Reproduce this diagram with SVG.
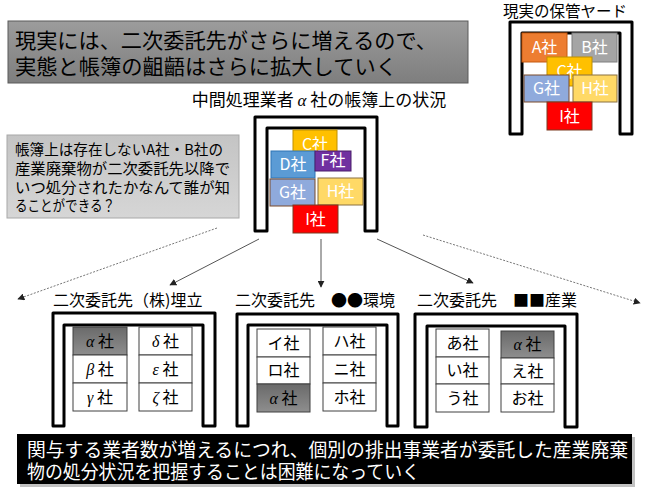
<svg xmlns="http://www.w3.org/2000/svg" width="650" height="489" viewBox="0 0 650 489">
<defs>
<linearGradient id="gTitle" x1="0" y1="0" x2="0" y2="1"><stop offset="0" stop-color="#9c9c9c"/><stop offset="1" stop-color="#7e7e7e"/></linearGradient>
<linearGradient id="gNote" x1="0" y1="0" x2="0" y2="1"><stop offset="0" stop-color="#c4c4c4"/><stop offset="1" stop-color="#d6d6d6"/></linearGradient>
<linearGradient id="gCell" x1="0" y1="0" x2="0" y2="1"><stop offset="0" stop-color="#6a6a6a"/><stop offset="1" stop-color="#8e8e8e"/></linearGradient>
<marker id="ah" viewBox="0 0 10 10" refX="9" refY="5" markerWidth="7" markerHeight="7" markerUnits="userSpaceOnUse" orient="auto"><path d="M0,0 L10,5 L0,10 Z" fill="#222"/></marker>
</defs>
<style>
text{font-family:"Noto Sans CJK JP","Liberation Sans",sans-serif;}
.u{fill:#fff;stroke:#000;stroke-width:3;stroke-linejoin:round;}
.bx{stroke-width:1;}
.wt{fill:#fff;font-size:16px;text-anchor:middle;}
.cell{fill:#fff;stroke:#404040;stroke-width:1;}
.ct{fill:#000;font-size:16px;text-anchor:middle;}
.lbl{fill:#000;font-size:16px;}
.gr{font-family:"Liberation Serif",serif;font-style:italic;}
.solid{stroke:#555;stroke-width:1;fill:none;marker-end:url(#ah);}
.dot{stroke:#777;stroke-width:1;stroke-dasharray:2,1.5;fill:none;marker-end:url(#ah);}
</style>
<rect width="650" height="489" fill="#fff"/>

<g id="title">
<rect x="8" y="21" width="460" height="62" fill="url(#gTitle)" stroke="#5a5a5a" stroke-width="1"/>
<text x="15" y="48" font-size="21" fill="#000" textLength="422" lengthAdjust="spacingAndGlyphs">現実には、二次委託先がさらに増えるので、</text>
<text x="15" y="74" font-size="21" fill="#000" textLength="382" lengthAdjust="spacingAndGlyphs">実態と帳簿の齟齬はさらに拡大していく</text>
</g>

<g id="yard">
<text x="565" y="17" font-size="15.5" text-anchor="middle" fill="#000">現実の保管ヤード</text>
<path class="u" d="M510,134 V22 H632 V134 H620 V33 H522 V134 Z"/>
<rect class="bx" x="522" y="33" width="45" height="29" fill="#ED7D31" stroke="#c55a11"/>
<text class="wt" x="544.5" y="53">A社</text>
<rect class="bx" x="572" y="33" width="45" height="29" fill="#A5A5A5" stroke="#7f7f7f"/>
<text class="wt" x="594.5" y="53">B社</text>
<rect class="bx" x="547" y="57" width="45" height="29" fill="#FFC000" stroke="#bf9000"/>
<text class="wt" x="569.5" y="77">C社</text>
<rect class="bx" x="524" y="75" width="45" height="27" fill="#8FAADC" stroke="#7a4a2a"/>
<text class="wt" x="546.5" y="94">G社</text>
<rect class="bx" x="573" y="75" width="44" height="27" fill="#FFD966" stroke="#8a7040"/>
<text class="wt" x="595" y="94">H社</text>
<rect class="bx" x="547" y="102" width="45" height="28" fill="#FF0000" stroke="#7a3a20"/>
<text class="wt" x="569.5" y="122">I社</text>
</g>

<g id="alpha">
<text x="319" y="106" font-size="17" text-anchor="middle" fill="#000">中間処理業者 <tspan class="gr">α</tspan> 社の帳簿上の状況</text>
<path class="u" d="M255,231 V117 H377 V231 H365 V128 H267 V231 Z"/>
<rect class="bx" x="293" y="130" width="44" height="28" fill="#FFC000" stroke="#bf9000"/>
<text class="wt" x="315" y="150">C社</text>
<rect class="bx" x="271" y="151" width="44" height="27" fill="#5B9BD5" stroke="#2e75b6"/>
<text class="wt" x="293" y="170">D社</text>
<rect class="bx" x="315" y="151" width="36" height="20" fill="#7030A0" stroke="#4a1f6a"/>
<text class="wt" x="333" y="166" font-size="12">F社</text>
<rect class="bx" x="270" y="179" width="45" height="27" fill="#8FAADC" stroke="#7a4a2a"/>
<text class="wt" x="292.5" y="198">G社</text>
<rect class="bx" x="318" y="178" width="45" height="27" fill="#FFD966" stroke="#8a7040"/>
<text class="wt" x="340.5" y="197">H社</text>
<rect class="bx" x="293" y="205" width="45" height="28" fill="#FF0000" stroke="#7a3a20"/>
<text class="wt" x="315.5" y="225">I社</text>
</g>

<g id="note">
<rect x="7" y="135" width="232" height="83" fill="url(#gNote)" stroke="#a8a8a8" stroke-width="1"/>
<text x="15" y="155" font-size="15" fill="#000" textLength="208" lengthAdjust="spacingAndGlyphs">帳簿上は存在しないA社・B社の</text>
<text x="15" y="174" font-size="15" fill="#000" textLength="215" lengthAdjust="spacingAndGlyphs">産業廃棄物が二次委託先以降で</text>
<text x="15" y="193" font-size="15" fill="#000" textLength="215" lengthAdjust="spacingAndGlyphs">いつ処分されたかなんて誰が知</text>
<text x="15" y="211" font-size="15" fill="#000" textLength="100" lengthAdjust="spacingAndGlyphs">ることができる？</text>
</g>

<g id="connectors">
<line class="dot" x1="217" y1="228" x2="18" y2="299"/>
<line class="solid" x1="259" y1="239" x2="170" y2="285"/>
<line class="solid" x1="321" y1="239" x2="321" y2="287"/>
<line class="solid" x1="377" y1="239" x2="473" y2="283"/>
<line class="dot" x1="423" y1="235" x2="640" y2="303"/>
</g>

<g id="sub1">
<text class="lbl" x="53" y="306">二次委託先（株)埋立</text>
<path class="u" d="M53,426 V313 H215 V426 H203 V325 H64 V426 Z"/>
<rect x="73" y="327" width="54" height="28" fill="url(#gCell)" stroke="#404040"/>
<text class="ct" x="100" y="347"><tspan class="gr">α</tspan> 社</text>
<rect class="cell" x="73" y="355" width="54" height="28"/>
<text class="ct" x="100" y="375"><tspan class="gr">β</tspan> 社</text>
<rect class="cell" x="73" y="383" width="54" height="28"/>
<text class="ct" x="100" y="403"><tspan class="gr">γ</tspan> 社</text>
<rect class="cell" x="139" y="327" width="53" height="28"/>
<text class="ct" x="165.5" y="347"><tspan class="gr">δ</tspan> 社</text>
<rect class="cell" x="139" y="355" width="53" height="28"/>
<text class="ct" x="165.5" y="375"><tspan class="gr">ε</tspan> 社</text>
<rect class="cell" x="139" y="383" width="53" height="28"/>
<text class="ct" x="165.5" y="403"><tspan class="gr">ζ</tspan> 社</text>
</g>

<g id="sub2">
<text class="lbl" x="235" y="306">二次委託先　●●環境</text>
<path class="u" d="M237,426 V314 H398 V426 H387 V325 H248 V426 Z"/>
<rect class="cell" x="257" y="329" width="53" height="28"/>
<text class="ct" x="283.5" y="349">イ社</text>
<rect class="cell" x="257" y="357" width="53" height="27"/>
<text class="ct" x="283.5" y="376">ロ社</text>
<rect x="257" y="384" width="53" height="28" fill="url(#gCell)" stroke="#404040"/>
<text class="ct" x="283.5" y="404"><tspan class="gr">α</tspan> 社</text>
<rect class="cell" x="323" y="327" width="53" height="28"/>
<text class="ct" x="349.5" y="347">ハ社</text>
<rect class="cell" x="323" y="355" width="53" height="28"/>
<text class="ct" x="349.5" y="375">ニ社</text>
<rect class="cell" x="323" y="383" width="53" height="28"/>
<text class="ct" x="349.5" y="403">ホ社</text>
</g>

<g id="sub3">
<text class="lbl" x="417" y="306">二次委託先　■■産業</text>
<path class="u" d="M415,427 V314 H577 V427 H565 V326 H427 V427 Z"/>
<rect class="cell" x="436" y="329" width="53" height="28"/>
<text class="ct" x="462.5" y="349">あ社</text>
<rect class="cell" x="436" y="357" width="53" height="27"/>
<text class="ct" x="462.5" y="376">い社</text>
<rect class="cell" x="436" y="384" width="53" height="28"/>
<text class="ct" x="462.5" y="404">う社</text>
<rect x="501" y="331" width="53" height="27" fill="url(#gCell)" stroke="#404040"/>
<text class="ct" x="527.5" y="350"><tspan class="gr">α</tspan> 社</text>
<rect class="cell" x="501" y="358" width="53" height="26"/>
<text class="ct" x="527.5" y="377">え社</text>
<rect class="cell" x="501" y="384" width="53" height="28"/>
<text class="ct" x="527.5" y="404">お社</text>
</g>

<g id="summary">
<rect x="20" y="437" width="615" height="50" fill="#9a9a9a" opacity="0.6"/>
<rect x="17" y="434" width="615" height="50" fill="#000"/>
<text x="27" y="457" font-size="18.8" fill="#fff" textLength="601" lengthAdjust="spacingAndGlyphs">関与する業者数が増えるにつれ、個別の排出事業者が委託した産業廃棄</text>
<text x="27" y="479" font-size="18.8" fill="#fff" textLength="393" lengthAdjust="spacingAndGlyphs">物の処分状況を把握することは困難になっていく</text>
</g>
</svg>
